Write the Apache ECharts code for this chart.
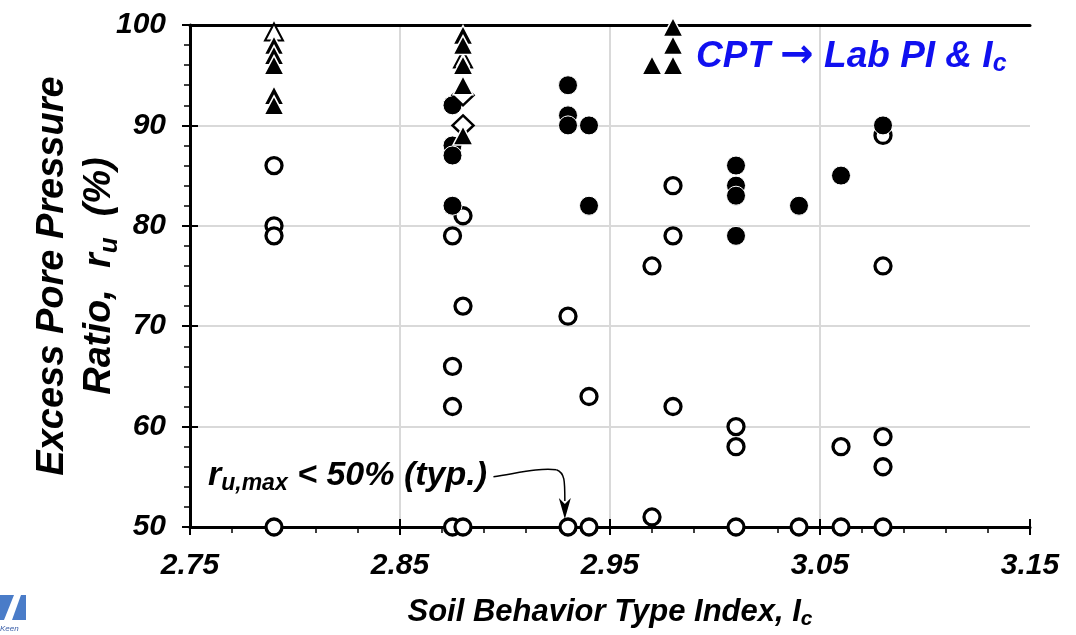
<!DOCTYPE html>
<html><head><meta charset="utf-8">
<script src="https://cdn.jsdelivr.net/npm/echarts@6/dist/echarts.min.js"></script>
<style>html,body{margin:0;padding:0;background:#fff}#c{width:1076px;height:635px}</style>
</head><body><div id="c"></div>
<script>
// ---- data ----
const X0 = 2.75; // x axis origin (labels counted from here)
const xTickLabels = ['2.75', '2.85', '2.95', '3.05', '3.15'];
const yTickLabels = ['50', '60', '70', '80', '90', '100'];

const openCircles = [
  [2.79, 86], [2.79, 80], [2.79, 79], [2.79, 50],
  [2.875, 79], [2.875, 66], [2.875, 62], [2.875, 50],
  [2.88, 81], [2.88, 72], [2.88, 50],
  [2.93, 71], [2.93, 50], [2.94, 63], [2.94, 50],
  [2.97, 76], [2.97, 51], [2.98, 84], [2.98, 79], [2.98, 62],
  [3.01, 60], [3.01, 58], [3.01, 50], [3.04, 50],
  [3.06, 58], [3.06, 50],
  [3.08, 89], [3.08, 76], [3.08, 59], [3.08, 56], [3.08, 50]
];
const filledCircles = [
  [2.875, 92], [2.875, 88], [2.875, 87], [2.875, 82],
  [2.93, 94], [2.93, 91], [2.93, 90], [2.94, 90], [2.94, 82],
  [3.01, 86], [3.01, 84], [3.01, 83], [3.01, 79],
  [3.04, 82], [3.06, 85], [3.08, 90]
];
const openDiamonds = [[2.88, 93], [2.88, 90]];
const openTriangles = [[2.79, 99.3], [2.88, 96.6]];
const filledTriangles = [
  [2.79, 98], [2.79, 97], [2.79, 96], [2.79, 93], [2.79, 92],
  [2.88, 99], [2.88, 98], [2.88, 96], [2.88, 94], [2.88, 89],
  [2.97, 96], [2.98, 96], [2.98, 98], [2.98, 99.8]
];
// annotation arrow anchor points (data coords): two cubic segments
const arrowSeg1 = [[2.8945, 55.0], [2.907, 55.4], [2.916, 55.9], [2.9245, 55.7]];
const arrowSeg2 = [[2.9245, 55.7], [2.9285, 55.4], [2.9285, 54.6], [2.9285, 52.6]];
const arrowTip = [2.9285, 50.8];

// ---- chart ----
const FONT = '"Liberation Sans", Arial, sans-serif';
const shift = d => d.map(p => [+(p[0] - X0).toFixed(4), p[1]]);
const chart = echarts.init(document.getElementById('c'), null, { renderer: 'canvas' });

const labelStyle = { fontFamily: FONT, fontSize: 30, fontWeight: 'bold', fontStyle: 'italic', color: '#000' };
const gridLine = { show: true, lineStyle: { color: '#d9d9d9', width: 2 } };

chart.setOption({
  animation: false,
  backgroundColor: '#fff',
  grid: { left: 190, right: 46, top: 25, bottom: 108, containLabel: false, outerBoundsMode: 'none' },
  xAxis: [
    {
      type: 'value', min: 0, max: 0.4, interval: 0.1, position: 'bottom',
      axisLine: { show: true, onZero: false, lineStyle: { color: '#000', width: 3 } },
      axisTick: { show: true, inside: false, length: 8, lineStyle: { color: '#000', width: 2 } },
      minorTick: { show: true, splitNumber: 5, length: 6, lineStyle: { color: '#000', width: 1.5 } },
      splitLine: Object.assign({ showMinLine: false, showMaxLine: false }, gridLine),
      axisLabel: Object.assign({ margin: 24, formatter: v => xTickLabels[Math.round(v / 0.1)] }, labelStyle),
      name: '{a|Soil Behavior Type Index, I}{s|c}',
      nameLocation: 'middle', nameGap: 68,
      nameTextStyle: {
        rich: {
          a: { fontFamily: FONT, fontSize: 31, fontWeight: 'bold', fontStyle: 'italic', color: '#000' },
          s: { fontFamily: FONT, fontSize: 21, fontWeight: 'bold', fontStyle: 'italic', color: '#000', verticalAlign: 'bottom', padding: [14, 0, 0, 0] }
        }
      }
    },
    {
      type: 'value', min: 0, max: 0.4, interval: 0.1, position: 'top',
      axisLine: { show: true, onZero: false, lineStyle: { color: '#000', width: 3 } },
      axisTick: { show: false }, axisLabel: { show: false }, splitLine: { show: false }
    },
    {
      type: 'value', min: 0, max: 0.4, interval: 0.1, position: 'bottom',
      axisLine: { show: false, onZero: false },
      axisTick: { show: true, inside: true, length: 8, lineStyle: { color: '#000', width: 2 } },
      axisLabel: { show: false }, splitLine: { show: false }
    }
  ],
  yAxis: [
    {
      type: 'value', min: 50, max: 100, interval: 10, position: 'left',
      axisLine: { show: true, onZero: false, lineStyle: { color: '#000', width: 3 } },
      axisTick: { show: true, inside: false, length: 8, lineStyle: { color: '#000', width: 2 } },
      minorTick: { show: true, splitNumber: 5, length: 6, lineStyle: { color: '#000', width: 1.5 } },
      splitLine: Object.assign({ showMinLine: false, showMaxLine: false }, gridLine),
      axisLabel: Object.assign({ margin: 24, formatter: v => yTickLabels[Math.round((v - 50) / 10)] }, labelStyle),
      name: '{a|Excess Pore Pressure}\n{a|Ratio,  r}{s|u}{a|  (%)}',
      nameLocation: 'middle', nameRotate: 90, nameGap: 67, nameMoveOverlap: false,
      nameTextStyle: {
        lineHeight: 47,
        rich: {
          a: { fontFamily: FONT, fontSize: 38, fontWeight: 'bold', fontStyle: 'italic', color: '#000', lineHeight: 47 },
          s: { fontFamily: FONT, fontSize: 26, fontWeight: 'bold', fontStyle: 'italic', color: '#000', verticalAlign: 'bottom', lineHeight: 40 }
        }
      }
    },
    {
      type: 'value', min: 50, max: 100, interval: 10, position: 'left',
      axisLine: { show: false, onZero: false },
      axisTick: { show: true, inside: true, length: 8, lineStyle: { color: '#000', width: 2 } },
      axisLabel: { show: false }, splitLine: { show: false }
    }
  ],
  series: [
    {
      type: 'scatter', name: 'open circles', data: shift(openCircles), clip: false,
      symbol: 'circle', symbolSize: 16,
      itemStyle: { color: '#fff', borderColor: '#000', borderWidth: 3.3, opacity: 1 }
    },
    {
      type: 'scatter', name: 'filled circles', data: shift(filledCircles), clip: false,
      symbol: 'circle', symbolSize: 19,
      itemStyle: { color: '#000', borderColor: '#fff', borderWidth: 1, opacity: 1 }
    },
    {
      type: 'scatter', name: 'open diamonds', data: shift(openDiamonds), clip: false,
      symbol: 'diamond', symbolSize: [21, 20],
      itemStyle: { color: '#fff', borderColor: '#000', borderWidth: 2.5, opacity: 1 }
    },
    {
      type: 'scatter', name: 'open triangles', data: shift(openTriangles), clip: false,
      symbol: 'triangle', symbolSize: [18, 17],
      itemStyle: { color: '#fff', borderColor: '#000', borderWidth: 2, opacity: 1 }
    },
    {
      type: 'scatter', name: 'filled triangles', data: shift(filledTriangles), clip: false,
      symbol: 'triangle', symbolSize: [20, 19],
      itemStyle: { color: '#000', borderColor: '#fff', borderWidth: 1.5, opacity: 1 }
    }
  ]
});

// ---- annotations ----
const toPx = p => chart.convertToPixel({ xAxisIndex: 0, yAxisIndex: 0 }, [p[0] - X0, p[1]]);
const bez = seg => {
  const q = seg.map(toPx);
  return { x1: q[0][0], y1: q[0][1], cpx1: q[1][0], cpy1: q[1][1], cpx2: q[2][0], cpy2: q[2][1], x2: q[3][0], y2: q[3][1] };
};
const tip = toPx(arrowTip);
const BLUE = '#1010f0';

chart.setOption({
  graphic: [
    {
      type: 'text', x: 696, y: 36, z: 100,
      style: {
        text: '{a|CPT }{r|→}{a| Lab PI & I}{s|c}',
        rich: {
          a: { fontFamily: FONT, fontSize: 37, fontWeight: 'bold', fontStyle: 'italic', fill: BLUE },
          r: { fontFamily: '"DejaVu Sans", sans-serif', fontSize: 40, fontWeight: 'bold', fill: BLUE },
          s: { fontFamily: FONT, fontSize: 25, fontWeight: 'bold', fontStyle: 'italic', fill: BLUE, verticalAlign: 'bottom', padding: [16, 0, 0, 0] }
        }
      }
    },
    {
      type: 'text', x: 208, y: 457, z: 100,
      style: {
        text: '{a|r}{s|u,max}{a| < 50% (typ.)}',
        rich: {
          a: { fontFamily: FONT, fontSize: 34, fontWeight: 'bold', fontStyle: 'italic', fill: '#000' },
          s: { fontFamily: FONT, fontSize: 23, fontWeight: 'bold', fontStyle: 'italic', fill: '#000', verticalAlign: 'bottom', padding: [15, 0, 0, 0] }
        }
      }
    },
    { type: 'bezierCurve', z: 100, shape: bez(arrowSeg1), style: { fill: null, stroke: '#000', lineWidth: 1.5 } },
    { type: 'bezierCurve', z: 100, shape: bez(arrowSeg2), style: { fill: null, stroke: '#000', lineWidth: 1.5 } },
    {
      type: 'polygon', z: 100,
      shape: { points: [[tip[0], tip[1]], [tip[0] - 6, tip[1] - 21], [tip[0], tip[1] - 15], [tip[0] + 6, tip[1] - 21]] },
      style: { fill: '#000' }
    },
    {
      type: 'polygon', z: 100,
      shape: { points: [[0, 595], [14, 595], [4, 620], [0, 620]] },
      style: { fill: '#4a7cc8' }
    },
    {
      type: 'polygon', z: 100,
      shape: { points: [[12, 620], [21, 595], [26, 595], [26, 620]] },
      style: { fill: '#4a7cc8' }
    },
    {
      type: 'text', x: 0, y: 625, z: 100,
      style: { text: 'Keen', fontFamily: FONT, fontSize: 8, fontStyle: 'italic', fill: '#3a5ea8' }
    }
  ]
});
</script>
</body></html>
